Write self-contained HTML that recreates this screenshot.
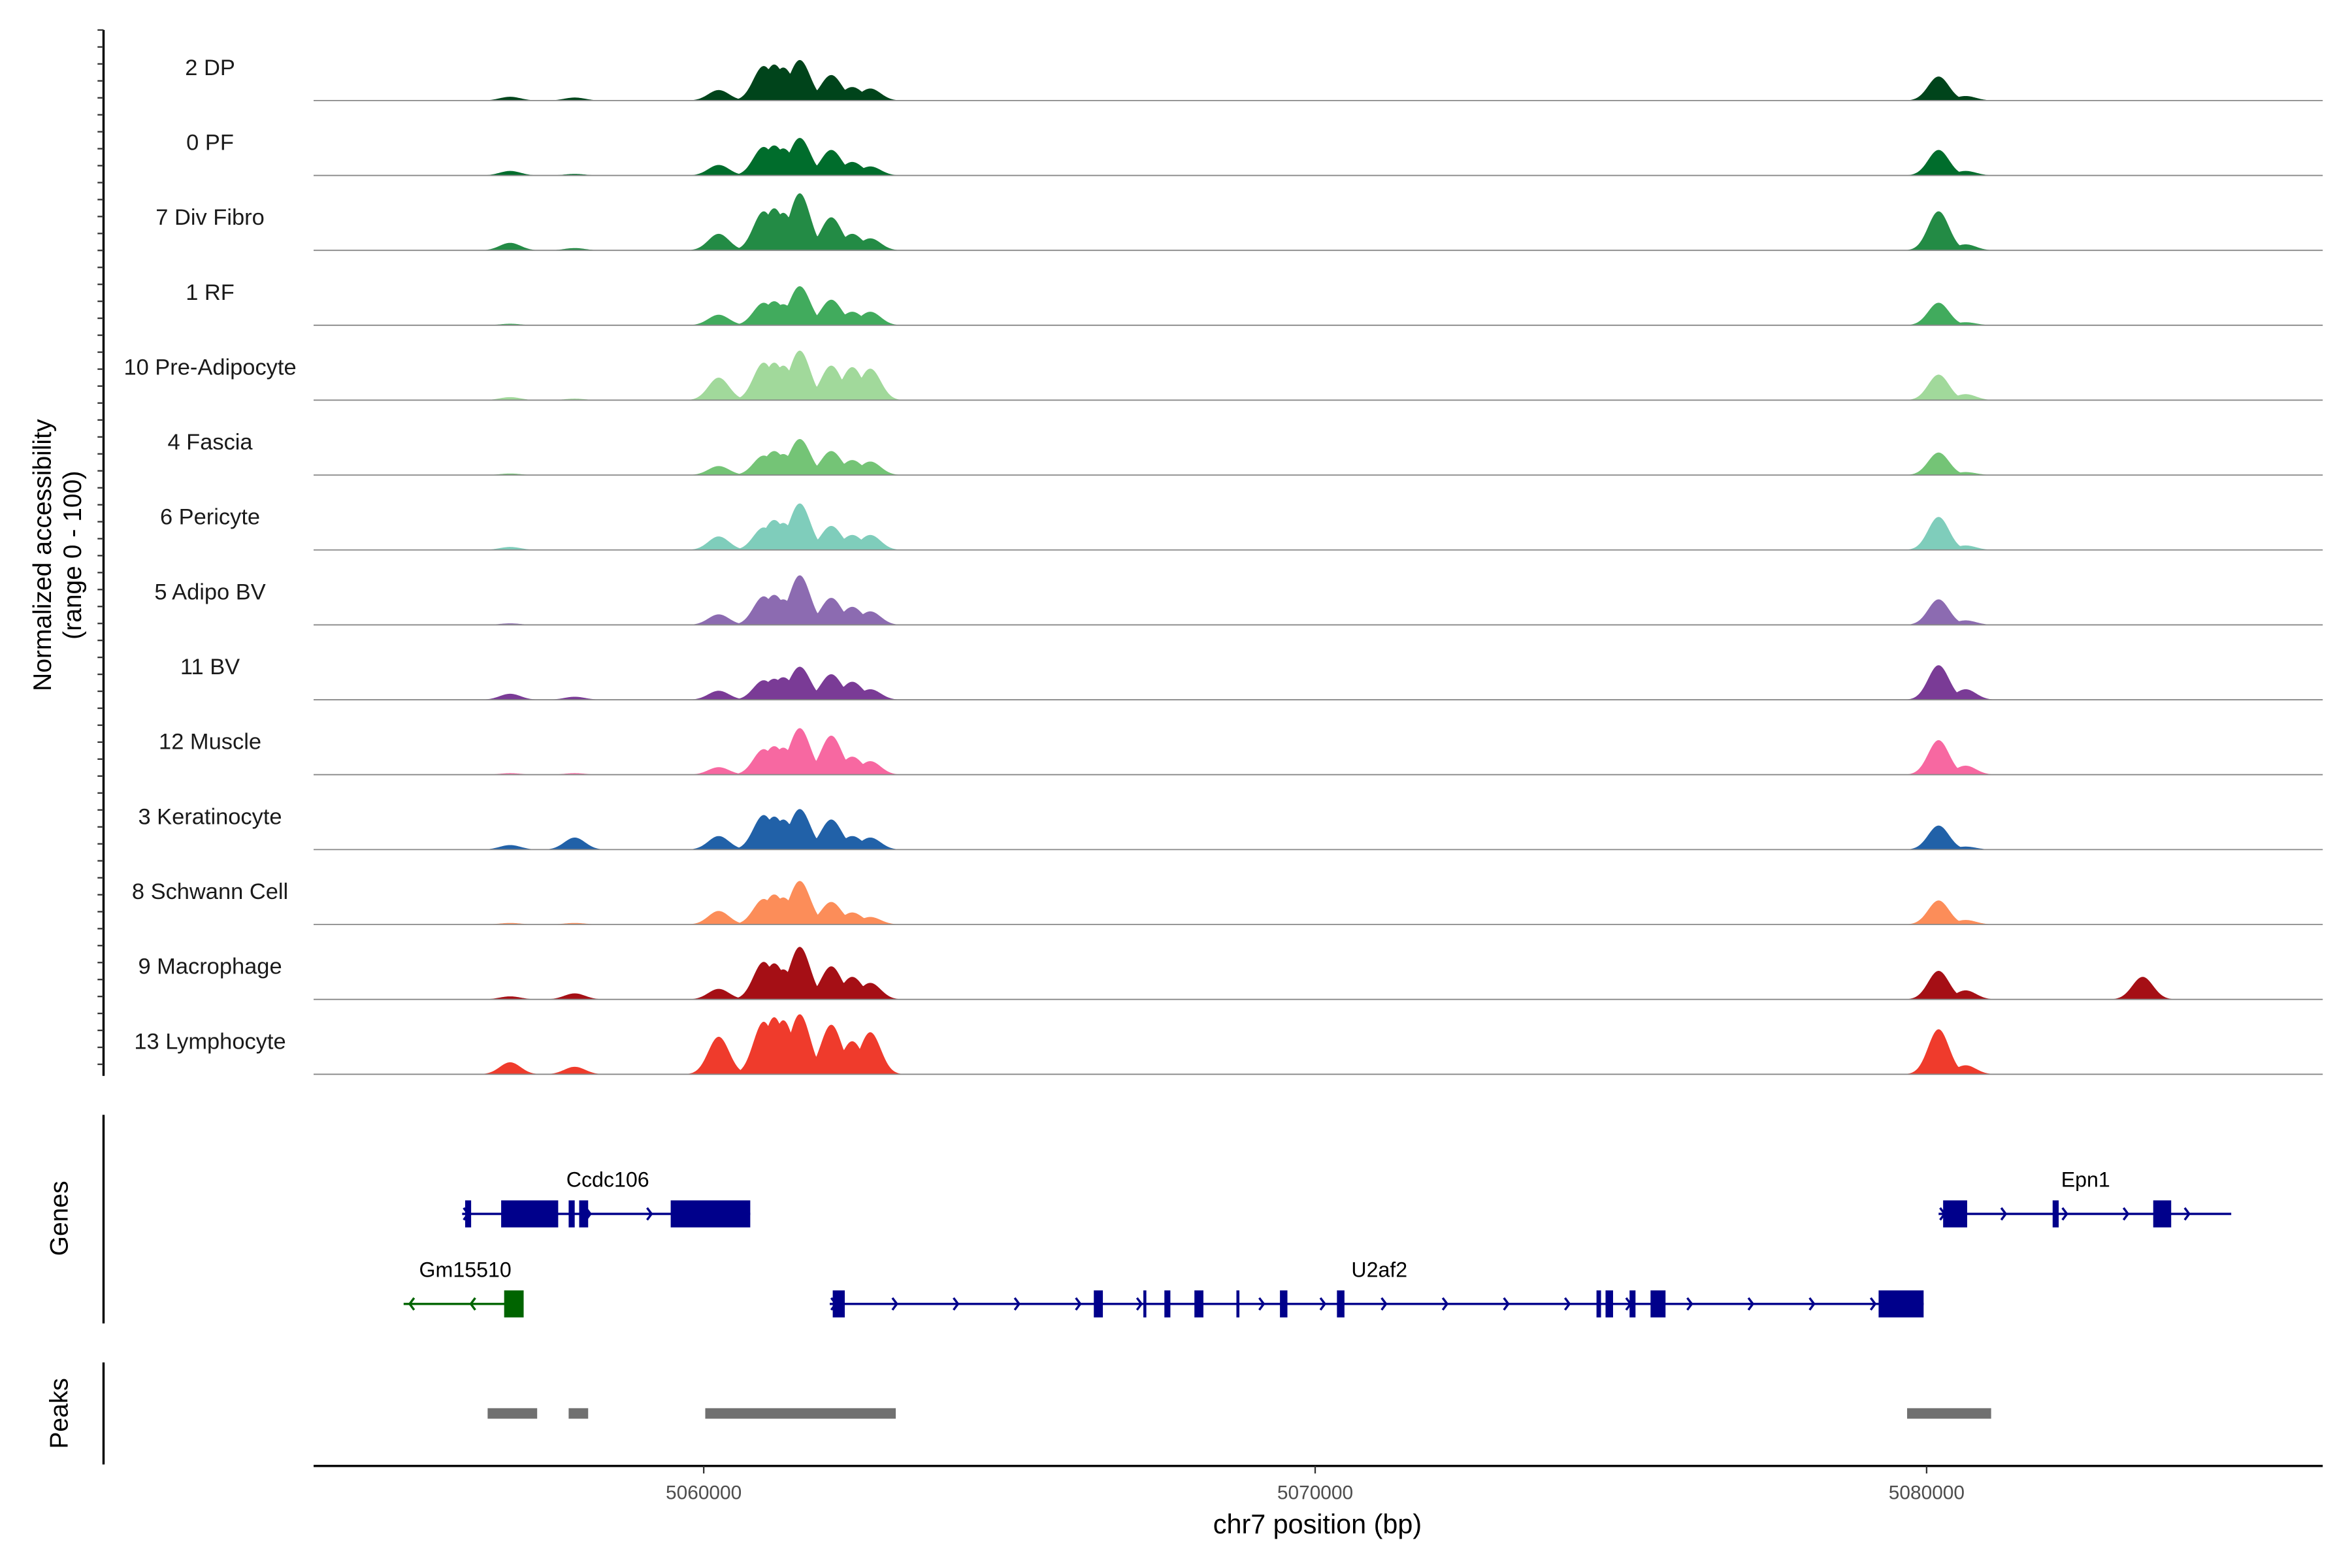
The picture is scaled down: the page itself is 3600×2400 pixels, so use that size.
<!DOCTYPE html>
<html><head><meta charset="utf-8"><style>
html,body{margin:0;padding:0;background:#fff;}
svg{display:block;font-family:"Liberation Sans",sans-serif;}
</style></head><body>
<svg id="chart" width="3600" height="2400" viewBox="0 0 1567.5 1045" preserveAspectRatio="none" xmlns="http://www.w3.org/2000/svg">
<rect width="1567.5" height="1045" fill="#fff"/>
<g id="tracks"></g>
<g id="genes"></g>
<g id="peaks"></g>
<g id="axes"></g>
</svg>
<script>
const trackNames=["2 DP","0 PF","7 Div Fibro","1 RF","10 Pre-Adipocyte","4 Fascia","6 Pericyte","5 Adipo BV","11 BV","12 Muscle","3 Keratinocyte","8 Schwann Cell","9 Macrophage","13 Lymphocyte"];
const trackColors=["#00441b","#006d2c","#238b45","#41ab5d","#a1d99b","#74c476","#7fcdbb","#8c6bb1","#7a3b96","#f768a1","#2161a8","#fc8d59","#a50f15","#ef3b2c"];
const peakPositions=[5056834,5057890,5060245,5060982,5061153,5061301,5061571,5062086,5062429,5062724,5080196,5080638,5083534];
const peakHeights=[
[5,4,14,46,48,44,54,34,18,16,32,6,0],
[6,2,14,38,40,36,50,34,18,12,34,6,0],
[10,3,22,52,56,50,76,44,22,16,52,8,0],
[2,0,14,30,32,28,52,34,18,18,30,4,0],
[4,2,30,50,50,46,66,46,44,42,34,8,0],
[2,0,12,26,32,28,48,32,20,18,30,4,0],
[4,0,18,30,40,36,62,32,20,20,44,6,0],
[2,0,14,38,40,34,66,36,24,18,34,6,0],
[8,4,12,26,28,30,44,34,24,14,46,14,0],
[2,2,10,34,38,36,62,52,24,18,46,12,0],
[6,16,18,46,44,40,54,40,18,16,32,4,0],
[2,2,18,34,40,36,58,30,16,10,32,6,0],
[4,8,14,50,48,40,70,44,30,22,38,12,30],
[16,10,50,70,76,72,80,66,44,56,60,12,0]];
const xTicks=[5060000,5070000,5080000];
const xTickLabels=["5060000","5070000","5080000"];
const genes=[
 {name:"Ccdc106",color:"#00008b",row:0,start:5056049,end:5060761,strand:1,label:5058430,exons:[[5056098,5056196],[5056687,5057620],[5057791,5057890],[5057963,5058110],[5059460,5060761]]},
 {name:"Epn1",color:"#00008b",row:0,start:5080196,end:5084982,strand:1,label:5082600,exons:[[5080270,5080663],[5082061,5082160],[5083706,5084000]]},
 {name:"U2af2",color:"#00008b",row:1,start:5062061,end:5079951,strand:1,label:5071050,exons:[[5062110,5062307],[5066380,5066528],[5067190,5067239],[5067534,5067632],[5068025,5068172],[5068712,5068761],[5069424,5069546],[5070356,5070479],[5074601,5074675],[5074749,5074872],[5075142,5075239],[5075485,5075730],[5079215,5079951]]},
 {name:"Gm15510",color:"#006400",row:1,start:5055092,end:5057055,strand:-1,label:5056100,exons:[[5056736,5057055]]}];
const peakRegions=[[5056466,5057276],[5057791,5058110],[5060025,5063141],[5079681,5081055]];

const NS="http://www.w3.org/2000/svg";
const X0=209,X1=1548,BPX=40.75/1000;
function xs(bp){return 469+(bp-5060000)*BPX;}
function mk(tag,attrs,parent){const e=document.createElementNS(NS,tag);for(const k in attrs)e.setAttribute(k,attrs[k]);parent.appendChild(e);return e;}
const tracks=document.getElementById('tracks');
const base0=67,step=49.92,scaleY=0.5;
trackNames.forEach((nm,i)=>{
 const by=base0+i*step;
 const g=mk('g',{},tracks);
 
 
 let d='M'+X0+','+by;
 for(let x=X0;x<=X1;x+=0.5){
  const bp=5060000+(x-469)/BPX;let v=0;
  peakPositions.forEach((p,j)=>{const h=peakHeights[i][j];if(!h)return;const z=(bp-p)/170;v=Math.max(v,h*Math.exp(-z*z/2));});
  d+=' L'+x+','+(by-v*scaleY).toFixed(2);
 }
 d+=' L'+X1+','+by+' Z';
 const a=mk('path',{d:d,fill:trackColors[i]},g);
 
 
 const l=mk('line',{x1:X0,x2:X1,y1:by,y2:by,stroke:'#888','stroke-width':0.8},g);
 
 
 const t=mk('text',{x:140,y:by-17,'font-size':15,'text-anchor':'middle',fill:'#1a1a1a'},g);
 t.textContent=nm;
 
 
});
const gg=document.getElementById('genes');
genes.forEach(ge=>{
 const y=ge.row?869:809;
 const g=mk('g',{},gg);
 
 
 const x1=xs(ge.start),x2=xs(ge.end);
 mk('line',{x1:x1,x2:x2,y1:y,y2:y,stroke:ge.color,'stroke-width':1.5},g);
 for(let x=x1+4;x<x2;x+=40.75){
  const s=ge.strand;
  mk('path',{d:`M${x-3*s},${y-4} L${x},${y} L${x-3*s},${y+4}`,fill:'none',stroke:ge.color,'stroke-width':1.5},g);
 }
 ge.exons.forEach(e=>{const r=mk('rect',{x:xs(e[0]),y:y-9,width:Math.max(1.5,xs(e[1])-xs(e[0])),height:18,fill:ge.color},g);
  });
 const t=mk('text',{x:xs(ge.label),y:y-18,'font-size':14,'text-anchor':'middle',fill:'#000'},g);
 t.textContent=ge.name;
 
 
});
const pg=document.getElementById('peaks');
peakRegions.forEach(p=>{const r=mk('rect',{x:xs(p[0]),y:938.5,width:xs(p[1])-xs(p[0]),height:7,fill:'#707070'},pg);
 });
const ax=document.getElementById('axes');
mk('line',{x1:69,x2:69,y1:20,y2:717,stroke:'#000','stroke-width':1.5},ax);
for(let y=20;y<=717;y+=11.3) mk('line',{x1:65,x2:69,y1:y,y2:y,stroke:'#333','stroke-width':1},ax);
mk('line',{x1:69,x2:69,y1:743,y2:882,stroke:'#000','stroke-width':1.5},ax);
mk('line',{x1:69,x2:69,y1:908,y2:976,stroke:'#000','stroke-width':1.5},ax);
mk('line',{x1:X0,x2:X1,y1:977,y2:977,stroke:'#000','stroke-width':1.5},ax);
xTicks.forEach((v,i)=>{mk('line',{x1:xs(v),x2:xs(v),y1:977,y2:982,stroke:'#333'},ax);
 const t=mk('text',{x:xs(v),y:999,'font-size':13,'text-anchor':'middle',fill:'#4d4d4d'},ax);t.textContent=xTickLabels[i];
 });
let t=mk('text',{x:878,y:1022,'font-size':18,'text-anchor':'middle',fill:'#000'},ax);t.textContent='chr7 position (bp)';

t=mk('text',{transform:'translate(34,370) rotate(-90)','font-size':17,'text-anchor':'middle',fill:'#000'},ax);t.textContent='Normalized accessibility';

t=mk('text',{transform:'translate(54,370) rotate(-90)','font-size':17,'text-anchor':'middle',fill:'#000'},ax);t.textContent='(range 0 - 100)';

t=mk('text',{transform:'translate(45,812) rotate(-90)','font-size':17,'text-anchor':'middle',fill:'#000'},ax);t.textContent='Genes';

t=mk('text',{transform:'translate(45,942) rotate(-90)','font-size':17,'text-anchor':'middle',fill:'#000'},ax);t.textContent='Peaks';

</script>
</body></html>
